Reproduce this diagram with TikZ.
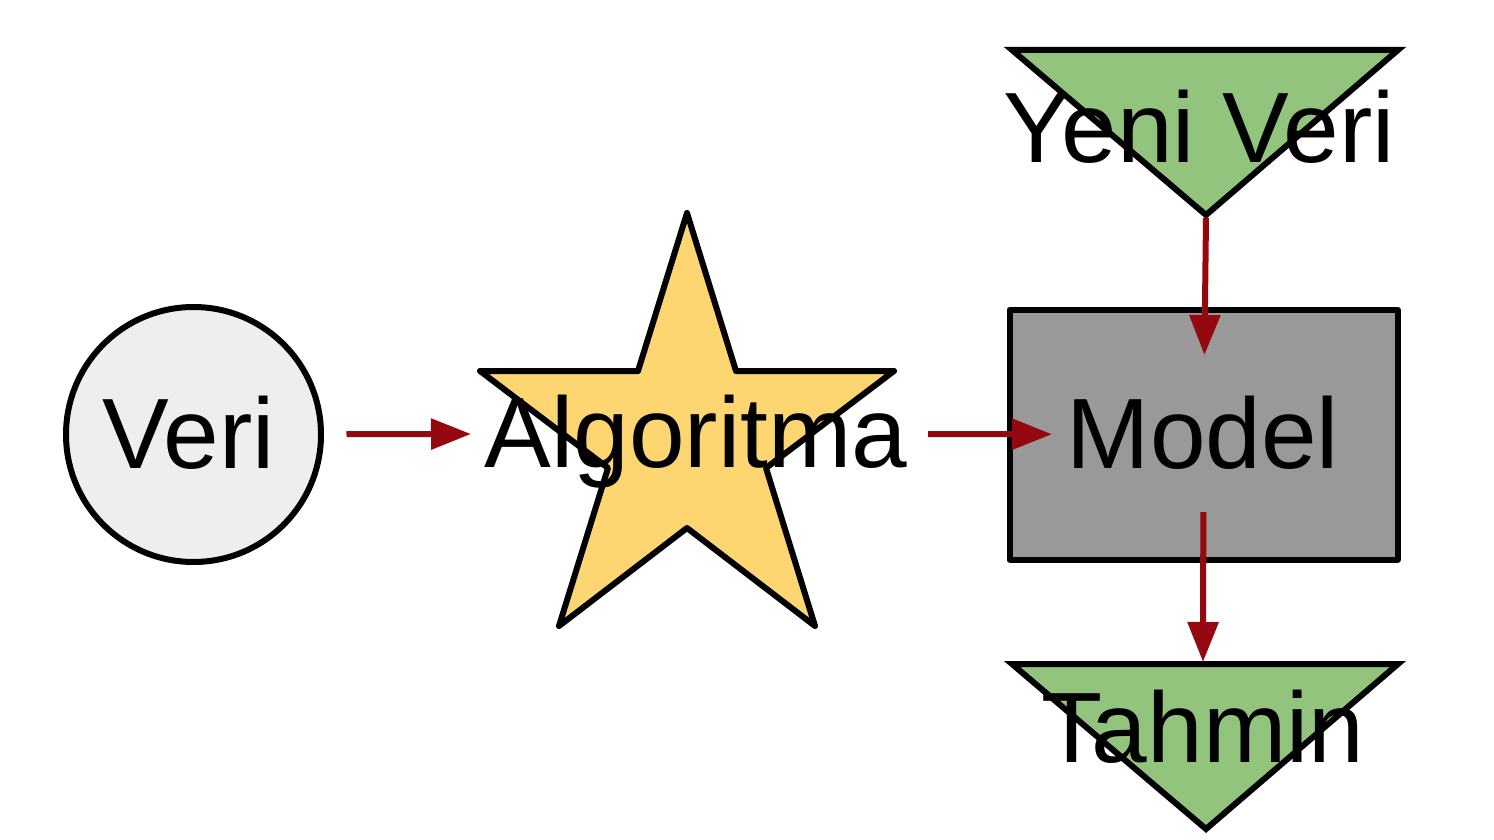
\documentclass[tikz,border=0pt]{standalone}
\usepackage{fontspec}
\setmainfont{Liberation Sans}
\usetikzlibrary{arrows.meta}
\definecolor{veriFill}{HTML}{EEEEEE}
\definecolor{starFill}{HTML}{FDD672}
\definecolor{modelFill}{HTML}{999999}
\definecolor{triFill}{HTML}{93C47D}
\definecolor{arrRed}{HTML}{96080F}
\begin{document}
\begin{tikzpicture}[x=1pt,y=-1pt,
  shapeline/.style={draw=black, line width=6pt, line join=round},
  lbl/.style={inner sep=0pt, outer sep=0pt, anchor=base, font=\fontsize{100}{112}\selectfont},
  arr/.style={draw=arrRed, line width=6pt, -{Triangle[length=40pt,width=30pt]}}]
\useasboundingbox (0,0) rectangle (1494,840);
% shapes
\node[shapeline, circle, fill=veriFill, minimum size=255pt, inner sep=0pt, outer sep=0pt] (veriC) at (193.5,434.5) {};
\draw[shapeline, fill=starFill] (687,213) -- (736,371) -- (894,371) -- (766,468) -- (815,626) -- (687,528) -- (559,626) -- (608,468) -- (480,371) -- (638,371) -- cycle;
\node[shapeline, rectangle, fill=modelFill, minimum width=388pt, minimum height=250pt, inner sep=0pt, outer sep=0pt] (modelR) at (1203.5,434.5) {};
\draw[shapeline, fill=triFill, line join=miter] (1012,50) -- (1398,50) -- (1206,215) -- cycle;
\draw[shapeline, fill=triFill, line join=miter] (1012,664) -- (1398,664) -- (1206,829) -- cycle;
% connector ends
\coordinate (algIn) at (471,434);
\coordinate (algOut) at (928,434);
\coordinate (yeniTip) at (1206,218);
\coordinate (tahminTop) at (1203,662);
% connectors
\draw[arr, shorten <=25.5pt] (veriC) -- (algIn);
\draw[arr, shorten >=-42.5pt] (algOut) -- (modelR);
\draw[arr, shorten >=-45.5pt] (yeniTip) -- (modelR);
\draw[arr, shorten <=-47.5pt] (modelR) -- (tahminTop);
% labels
\node[lbl] (veri) at (188.5,468) {Veri};
\node[lbl] (alg) at (696,467) {Algoritma};
\node[lbl] (model) at (1203,468) {Model};
\node[lbl] (yeni) at (1199.5,162) {Yeni Veri};
\node[lbl] (tahmin) at (1203,762) {Tahmin};
\end{tikzpicture}
\end{document}
